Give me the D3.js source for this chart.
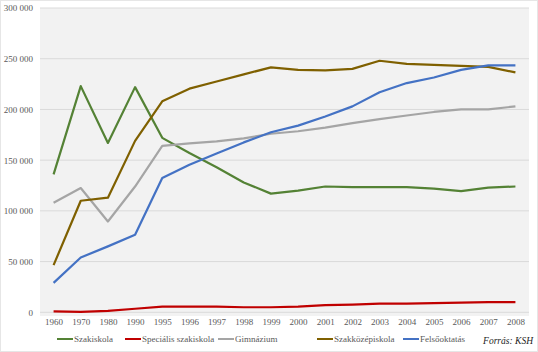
<!DOCTYPE html>
<html>
<head>
<meta charset="utf-8">
<script src="https://cdn.jsdelivr.net/npm/d3@7"></script>
<style>
  body { margin: 0; background: #fff; }
  svg { font-family: "Liberation Serif", "Times New Roman", serif; }
</style>
</head>
<body>
<div id="chart"></div>
<script>
// Years on the x axis
const years = ["1960", "1970", "1980", "1990", "1995", "1996", "1997", "1998", "1999",
  "2000", "2001", "2002", "2003", "2004", "2005", "2006", "2007", "2008"];

// Number of students by school type
const szakiskola = [136000, 223000, 167000, 222000, 172000, 157000, 143000, 128000, 117000,
  120000, 124000, 123500, 123500, 123500, 122000, 119500, 123000, 124000];
const specialis = [1000, 500, 1500, 3500, 5500, 5500, 5500, 5000, 5000,
  5500, 7000, 7500, 8500, 8500, 9000, 9500, 10000, 10000];
const gimnazium = [108000, 122500, 89500, 124000, 164000, 166500, 168500, 171500, 176000,
  178500, 182000, 186500, 190500, 194000, 197500, 200000, 200000, 203000];
const szakkozep = [46500, 110000, 113000, 169000, 208000, 220500, 227500, 234500, 241500,
  239000, 238500, 240000, 248000, 245000, 244000, 243000, 242000, 236500];
const felsooktatas = [29000, 54000, 65000, 76500, 132500, 145500, 156500, 167500, 177500,
  184000, 193000, 203000, 217000, 226000, 231500, 239000, 243500, 243500];

const yTicks = [0, 50000, 100000, 150000, 200000, 250000, 300000];

const series = [
  { name: "Szakiskola", values: szakiskola, color: "#548235", lx: 57 },
  { name: "Speciális szakiskola", values: specialis, color: "#c00000", lx: 125 },
  { name: "Gimnázium", values: gimnazium, color: "#a5a5a5", lx: 218 },
  { name: "Szakközépiskola", values: szakkozep, color: "#7f6000", lx: 317 },
  { name: "Felsőoktatás", values: felsooktatas, color: "#4472c4", lx: 403 },
];

const serif = "'Liberation Serif', 'Times New Roman', serif";
const width = 538, height = 352;
const plot = { left: 40, right: 529, top: 8, bottom: 316 };

const svg = d3.select("#chart").append("svg")
  .attr("width", width)
  .attr("height", height)
  .attr("font-family", serif);

// Outer chart border
svg.append("rect")
  .attr("x", 0.5).attr("y", 0.5)
  .attr("width", width - 1).attr("height", height - 1)
  .attr("fill", "#fff")
  .attr("stroke", "#e6e6e6");

// Plot area background
svg.append("rect")
  .attr("x", plot.left).attr("y", plot.top)
  .attr("width", plot.right - plot.left)
  .attr("height", plot.bottom - plot.top)
  .attr("fill", "#f2f2f2");

const x = d3.scalePoint().domain(years).range([plot.left, plot.right]).padding(0.5);
const y = d3.scaleLinear().domain([0, 300000]).range([312.3, 8]);

// Gridlines
svg.append("g")
  .selectAll("line")
  .data(yTicks)
  .join("line")
  .attr("x1", plot.left).attr("x2", plot.right)
  .attr("y1", d => y(d)).attr("y2", d => y(d))
  .attr("stroke", "#dadada")
  .attr("stroke-width", 1);

// Y axis labels
const fmt = d => d === 0 ? "0" : d3.format(",")(d).replace(/,/g, " ");
const yAxis = d3.axisLeft(y).tickValues(yTicks).tickFormat(fmt).tickSize(0).tickPadding(7);
svg.append("g")
  .attr("transform", "translate(" + plot.left + ",0)")
  .call(yAxis)
  .attr("font-family", serif)
  .attr("font-size", 9)
  .call(g => g.select(".domain").remove())
  .selectAll("text")
  .attr("fill", "#595959");

// X axis labels
const xAxis = d3.axisBottom(x).tickSize(0).tickPadding(6);
svg.append("g")
  .attr("transform", "translate(0," + 313 + ")")
  .call(xAxis)
  .attr("font-family", serif)
  .attr("font-size", 9)
  .call(g => g.select(".domain").remove())
  .selectAll("text")
  .attr("fill", "#595959");

// Lines
const line = d3.line()
  .x((d, i) => x(years[i]))
  .y(d => y(d));

series.forEach(s => {
  svg.append("path")
    .datum(s.values)
    .attr("fill", "none")
    .attr("stroke", s.color)
    .attr("stroke-width", 2.2)
    .attr("stroke-linejoin", "round")
    .attr("d", line);
});

// Legend
const legend = svg.append("g").attr("class", "legend");
series.forEach(s => {
  legend.append("line")
    .attr("x1", s.lx).attr("x2", s.lx + 16)
    .attr("y1", 339).attr("y2", 339)
    .attr("stroke", s.color)
    .attr("stroke-width", 2);
  legend.append("text")
    .attr("x", s.lx + 17)
    .attr("y", 342)
    .attr("fill", "#595959")
    .attr("font-size", 9)
    .text(s.name);
});

// Source note
svg.append("text")
  .attr("x", 533)
  .attr("y", 344)
  .attr("text-anchor", "end")
  .attr("font-size", 9.5)
  .attr("font-style", "italic")
  .attr("fill", "#222")
  .text("Forrás: KSH");
</script>
</body>
</html>
